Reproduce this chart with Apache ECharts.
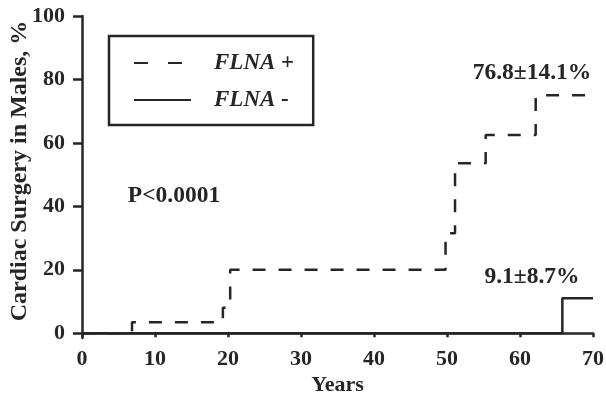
<!DOCTYPE html>
<html>
<head>
<meta charset="utf-8">
<script src="https://cdn.jsdelivr.net/npm/echarts@6/dist/echarts.min.js"></script>
<style>html,body{margin:0;padding:0;background:#fff;}#c{width:606px;height:397px;}</style>
</head>
<body>
<div id="c"></div>
<script>
// Data
var seriesNames = ['FLNA +', 'FLNA -'];
var flnaPosYears = [0, 6.85, 19.3, 20.3, 49.8, 51.1, 55.3, 62.15, 70];
var flnaPosPct   = [0, 3.5, 8, 20, 31.5, 53.6, 62.5, 75, 75];
var flnaNegYears = [0, 65.8, 70];
var flnaNegPct   = [0, 11, 11];
var xTicks = [0, 10, 20, 30, 40, 50, 60, 70];
var yTicks = [0, 20, 40, 60, 80, 100];
var annotations = ['76.8\u00b114.1%', '9.1\u00b18.7%', 'P<0.0001'];

var INK = '#262626';
var FONT = 'Liberation Serif';

function pairs(xs, ys) { return xs.map(function (x, i) { return [x, ys[i]]; }); }

var chart = echarts.init(document.getElementById('c'));
chart.setOption({
  animation: false,
  backgroundColor: '#fff',
  grid: { left: 82, right: 13, top: 16, bottom: 59, outerBoundsMode: 'none', containLabel: false },
  xAxis: {
    type: 'value', min: 0, max: 70, interval: 10,
    name: 'Years', nameLocation: 'middle', nameGap: 36, nameMoveOverlap: false,
    nameTextStyle: { fontFamily: FONT, fontWeight: 'bold', fontSize: 22, color: INK },
    axisLine: { lineStyle: { color: INK, width: 2.5 } },
    axisTick: { show: true, length: 4, customValues: xTicks, lineStyle: { color: INK, width: 2.5 } },
    axisLabel: { fontFamily: FONT, fontWeight: 'bold', fontSize: 22, color: INK, margin: 10, customValues: xTicks },
    splitLine: { show: false }
  },
  yAxis: {
    type: 'value', min: -1.5, max: 100,
    name: 'Cardiac Surgery in Males, %', nameLocation: 'middle', nameGap: 50, nameRotate: 90, nameMoveOverlap: false,
    nameTextStyle: { fontFamily: FONT, fontWeight: 'bold', fontSize: 24, color: INK, padding: [0, 0, 0, 12] },
    axisLine: { show: true, lineStyle: { color: INK, width: 2.5 } },
    axisTick: { show: true, length: 9, customValues: yTicks, lineStyle: { color: INK, width: 2.5 } },
    axisLabel: { fontFamily: FONT, fontWeight: 'bold', fontSize: 22, color: INK, margin: 17, customValues: yTicks },
    splitLine: { show: false }
  },
  legend: {
    orient: 'vertical', left: 109, top: 36,
    padding: [14, 19, 12, 24],
    itemWidth: 57, itemHeight: 14, itemGap: 11,
    borderColor: INK, borderWidth: 2.5,
    itemStyle: { opacity: 0 },
    data: [
      { name: seriesNames[0], lineStyle: { type: [14, 20] } },
      { name: seriesNames[1] }
    ],
    formatter: function (name) { return name.replace('FLNA', '{i|FLNA}'); },
    textStyle: {
      fontFamily: FONT, fontWeight: 'bold', fontSize: 23, color: INK, lineHeight: 26,
      padding: [0, 0, 0, 18],
      rich: { i: { fontFamily: FONT, fontWeight: 'bold', fontStyle: 'italic', fontSize: 23, color: INK, lineHeight: 26 } }
    }
  },
  series: [
    {
      name: seriesNames[0], type: 'line', step: 'end', symbol: 'none',
      data: pairs(flnaPosYears, flnaPosPct),
      lineStyle: { color: INK, width: 2.5, type: [13, 13] },
      itemStyle: { color: INK }, z: 3
    },
    {
      name: seriesNames[1], type: 'line', step: 'end', symbol: 'none',
      data: pairs(flnaNegYears, flnaNegPct),
      lineStyle: { color: INK, width: 2.5, type: 'solid' },
      itemStyle: { color: INK }, z: 2
    }
  ],
  graphic: [
    { type: 'text', x: 532, y: 73, style: { text: annotations[0], fill: INK, font: 'bold 23.5px "Liberation Serif"', textAlign: 'center', textVerticalAlign: 'middle' } },
    { type: 'text', x: 532, y: 277, style: { text: annotations[1], fill: INK, font: 'bold 23.5px "Liberation Serif"', textAlign: 'center', textVerticalAlign: 'middle' } },
    { type: 'text', x: 174, y: 196, style: { text: annotations[2], fill: INK, font: 'bold 23.5px "Liberation Serif"', textAlign: 'center', textVerticalAlign: 'middle' } }
  ]
});
</script>
</body>
</html>
